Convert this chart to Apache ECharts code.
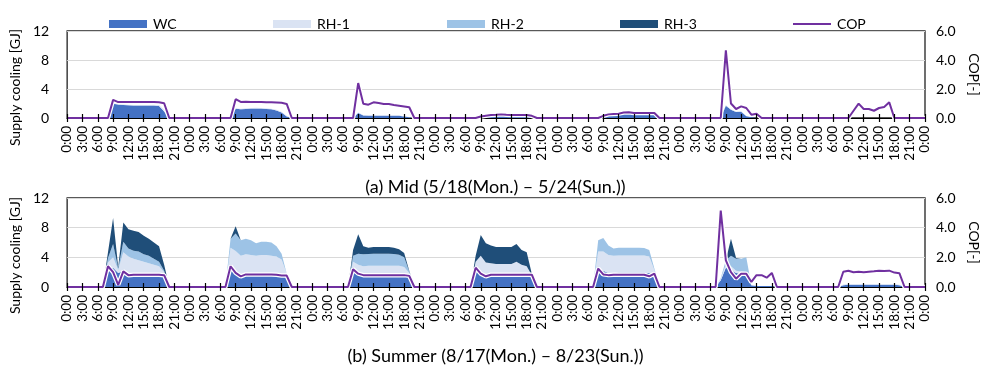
<!DOCTYPE html>
<html>
<head>
<meta charset="utf-8">
<script src="https://cdn.jsdelivr.net/npm/echarts@6/dist/echarts.min.js"></script>
<style>
  html, body { margin: 0; padding: 0; background: #ffffff; }
  #chart { width: 991px; height: 372px; }
</style>
</head>
<body>
<div id="chart"></div>
<script>
// Hour-of-day tick labels (one category per hour, 7 days + closing midnight)
const dayHours = ['0:00','1:00','2:00','3:00','4:00','5:00','6:00','7:00','8:00','9:00','10:00','11:00',
                  '12:00','13:00','14:00','15:00','16:00','17:00','18:00','19:00','20:00','21:00','22:00','23:00'];

const legendNames = ['WC', 'RH-1', 'RH-2', 'RH-3', 'COP'];
const panelTitles = ['(a) Mid (5/18(Mon.) \u2013 5/24(Sun.))', '(b) Summer (8/17(Mon.) \u2013 8/23(Sun.))'];

// ---- Mid season, hourly supply cooling [GJ] and COP [-] ----
const midWC = [
  0,0,0,0,0,0,0,0, 0,1.95,1.86,1.8,1.75,1.73,1.73,1.73,1.73,1.73,1.65,0.9, 0,0,0,0,
  0,0,0,0,0,0,0,0, 0,1.27,1.2,1.25,1.3,1.32,1.3,1.25,1.2,1.05,0.75,0.2, 0,0,0,0,
  0,0,0,0,0,0,0,0, 0,0.7,0.35,0.3,0.3,0.3,0.3,0.3,0.3,0.3,0.2,0.1, 0,0,0,0,
  0,0,0,0,0,0,0,0, 0,0.15,0.2,0.3,0.35,0.4,0.35,0.3,0.3,0.3,0.3,0.2, 0,0,0,0,
  0,0,0,0,0,0,0,0, 0,0.3,0.5,0.6,0.6,0.7,0.75,0.7,0.7,0.7,0.7,0.7, 0,0,0,0,
  0,0,0,0,0,0,0,0, 0,1.7,1.15,0.83,0.87,0.23,0.1,0,0,0,0,0, 0,0,0,0,
  0,0,0,0,0,0,0,0, 0,0,0,0,0,0,0,0,0,0,0,0, 0,0,0,0,
  0
];
const midRH1 = [
  0,0,0,0,0,0,0,0, 0,0.08,0.08,0.08,0.08,0.08,0.08,0.08,0.08,0.1,0.15,0.25, 0,0,0,0,
  0,0,0,0,0,0,0,0, 0,0.08,0.08,0.08,0.08,0.08,0.08,0.08,0.08,0.08,0.1,0.1, 0,0,0,0,
  0,0,0,0,0,0,0,0, 0,0.05,0.05,0.05,0.05,0.05,0.05,0.05,0.05,0.05,0.05,0.05, 0,0,0,0,
  0,0,0,0,0,0,0,0, 0,0,0,0,0,0,0,0,0,0,0,0, 0,0,0,0,
  0,0,0,0,0,0,0,0, 0,0,0,0,0,0,0,0,0,0,0,0, 0,0,0,0,
  0,0,0,0,0,0,0,0, 0,0.1,0.05,0.05,0.05,0,0,0,0,0,0,0, 0,0,0,0,
  0,0,0,0,0,0,0,0, 0,0,0,0,0,0,0,0,0,0,0,0, 0,0,0,0,
  0
];
const midCOP = [
  0,0,0,0,0,0,0,0, 0,1.25,1.1,1.1,1.1,1.1,1.1,1.1,1.1,1.1,1.08,1.02, 0,0,0,0,
  0,0,0,0,0,0,0,0, 0,1.3,1.11,1.12,1.1,1.1,1.1,1.08,1.08,1.07,1.05,0.97, 0,0,0,0,
  0,0,0,0,0,0,0,0, 0,2.41,0.99,0.92,1.08,1.03,0.97,0.97,0.9,0.85,0.8,0.74, 0,0,0,0,
  0,0,0,0,0,0,0,0, 0,0.1,0.15,0.2,0.22,0.25,0.22,0.2,0.2,0.2,0.2,0.15, 0,0,0,0,
  0,0,0,0,0,0,0,0, 0,0.15,0.25,0.28,0.3,0.38,0.4,0.35,0.35,0.35,0.35,0.35, 0,0,0,0,
  0,0,0,0,0,0,0,0, 0,4.67,1.0,0.62,0.8,0.69,0.23,0.3,0,0,0,0, 0,0,0,0,
  0,0,0,0,0,0,0,0, 0,0,0.5,0.99,0.62,0.62,0.5,0.69,0.76,1.08,0,0, 0,0,0,0,
  0
];

// ---- Summer, hourly supply cooling [GJ] and COP [-] ----
const summerWC = [
  0,0,0,0,0,0,0,0, 2.5,2.6,1.9,2.2,1.9,1.8,1.75,1.7,1.7,1.7,1.7,1.5, 0,0,0,0,
  0,0,0,0,0,0,0,0, 2.7,2.25,1.6,1.8,1.8,1.8,1.8,1.8,1.8,1.8,1.7,1.4, 0,0,0,0,
  0,0,0,0,0,0,0,0, 2.6,2.0,1.8,1.85,1.85,1.85,1.85,1.85,1.85,1.85,1.8,1.5, 0,0,0,0,
  0,0,0,0,0,0,0,0, 2.5,2.0,1.7,1.8,1.8,1.8,1.8,1.8,1.8,1.8,1.8,1.4, 0,0,0,0,
  0,0,0,0,0,0,0,0, 2.5,2.2,1.9,1.9,1.95,1.95,1.95,1.95,1.95,1.95,1.9,1.6, 0,0,0,0,
  0,0,0,0,0,0,0,0, 0.9,2.6,2.3,1.9,1.8,1.7,0.2,0.12,0.12,0.12,0.12,0, 0,0,0,0,
  0,0,0,0,0,0,0,0, 0.25,0.3,0.3,0.3,0.3,0.3,0.3,0.3,0.3,0.3,0.3,0.25, 0,0,0,0,
  0
];
const summerRH1 = [
  0,0,0,0,0,0,0,0, 0.8,1.4,0.4,2.5,2.2,2.0,1.85,1.7,1.5,1.3,1.1,0.5, 0,0,0,0,
  0,0,0,0,0,0,0,0, 2.6,2.6,2.6,2.6,2.5,2.4,2.5,2.5,2.4,2.3,2.0,0.4, 0,0,0,0,
  0,0,0,0,0,0,0,0, 0.8,1.0,1.0,1.0,1.0,1.0,1.0,1.0,1.0,1.0,0.9,0.4, 0,0,0,0,
  0,0,0,0,0,0,0,0, 0.9,2.2,1.6,1.4,1.3,1.3,1.3,1.3,1.6,1.2,1.0,0.2, 0,0,0,0,
  0,0,0,0,0,0,0,0, 2.3,2.6,2.4,2.3,2.3,2.3,2.3,2.3,2.3,2.3,2.2,0.7, 0,0,0,0,
  0,0,0,0,0,0,0,0, 0.2,0.4,0.5,0.3,0.3,0.3,0,0,0,0,0,0, 0,0,0,0,
  0,0,0,0,0,0,0,0, 0.1,0.1,0.1,0.1,0.1,0.1,0.1,0.1,0.1,0.1,0.1,0.05, 0,0,0,0,
  0
];
const summerRH2 = [
  0,0,0,0,0,0,0,0, 0.6,1.8,0.2,1.4,1.1,1.1,1.2,1.0,1.0,0.8,0.6,0.2, 0,0,0,0,
  0,0,0,0,0,0,0,0, 1.2,2.35,2.1,2.1,2.0,1.7,1.8,1.8,1.8,1.4,0.8,0, 0,0,0,0,
  0,0,0,0,0,0,0,0, 0.8,1.5,1.6,1.6,1.65,1.65,1.65,1.65,1.6,1.5,1.3,0.2, 0,0,0,0,
  0,0,0,0,0,0,0,0, 0,0,0,0,0,0,0,0,0,0,0,0, 0,0,0,0,
  0,0,0,0,0,0,0,0, 1.5,1.8,1.3,1.0,1.05,1.05,1.05,1.05,1.05,1.0,0.9,0.2, 0,0,0,0,
  0,0,0,0,0,0,0,0, 0.1,0.6,1.4,1.6,1.7,2.0,0,0,0,0,0,0, 0,0,0,0,
  0,0,0,0,0,0,0,0, 0,0,0,0,0,0,0,0,0,0,0,0, 0,0,0,0,
  0
];
const summerRH3 = [
  0,0,0,0,0,0,0,0, 0.8,3.5,0.2,2.6,2.6,2.7,2.6,2.5,2.3,2.2,2.1,0.8, 0,0,0,0,
  0,0,0,0,0,0,0,0, 0,1.0,0,0,0,0,0,0,0,0,0,0, 0,0,0,0,
  0,0,0,0,0,0,0,0, 0.8,2.6,1.1,0.85,0.9,0.9,0.9,0.9,0.85,0.75,0.6,0.1, 0,0,0,0,
  0,0,0,0,0,0,0,0, 0.8,2.8,2.6,2.4,2.3,2.3,2.3,2.3,2.4,2.0,1.9,0.2, 0,0,0,0,
  0,0,0,0,0,0,0,0, 0,0,0,0,0,0,0,0,0,0,0,0, 0,0,0,0,
  0,0,0,0,0,0,0,0, 0,0,2.3,0.1,0,0,0,0,0,0,0,0, 0,0,0,0,
  0,0,0,0,0,0,0,0, 0,0,0,0,0,0,0,0,0,0,0,0, 0,0,0,0,
  0
];
const summerCOP = [
  0,0,0,0,0,0,0,0, 1.4,1.0,0.15,1.05,0.8,0.82,0.82,0.82,0.82,0.82,0.82,0.8, 0,0,0,0,
  0,0,0,0,0,0,0,0, 1.4,0.95,0.72,0.85,0.85,0.85,0.85,0.84,0.84,0.83,0.78,0.77, 0,0,0,0,
  0,0,0,0,0,0,0,0, 1.2,0.9,0.8,0.8,0.8,0.8,0.8,0.8,0.8,0.8,0.8,0.75, 0,0,0,0,
  0,0,0,0,0,0,0,0, 1.3,0.9,0.72,0.83,0.83,0.83,0.83,0.83,0.83,0.83,0.83,0.83, 0,0,0,0,
  0,0,0,0,0,0,0,0, 1.24,0.85,0.8,0.83,0.83,0.83,0.83,0.83,0.83,0.83,0.72,0.9, 0,0,0,0,
  0,0,0,0,0,0,0,0, 5.15,1.8,1.0,0.56,0.9,0.9,0.34,0.8,0.8,0.63,0.95,0, 0,0,0,0,
  0,0,0,0,0,0,0,0, 1.03,1.1,1.0,1.03,1.0,1.03,1.06,1.1,1.08,1.1,0.97,0.92, 0,0,0,0,
  0
];

// Category labels for 7 days plus the closing midnight
const hourLabels = [];
for (let d = 0; d < 7; d++) hourLabels.push(...dayHours);
hourLabels.push(dayHours[0]);

const FONT = 'Lato';
const colors = { 'WC': '#4472C4', 'RH-1': '#DAE3F3', 'RH-2': '#9DC3E6', 'RH-3': '#1F4E79', 'COP': '#7030A0' };

const grids = [
  { left: 67, right: 66, top: 31, height: 87 },
  { left: 67, right: 66, top: 198, height: 89 }
];

const xAxes = [];
const yAxes = [];
grids.forEach((g, gi) => {
  // axis line + rotated labels (drawn beneath the series)
  xAxes.push({
    gridIndex: gi, type: 'category', data: hourLabels, boundaryGap: false,
    axisLine: { lineStyle: { color: '#000', width: 1.2 } },
    axisTick: { show: false },
    axisLabel: { interval: 2, rotate: 90, fontSize: 13.5, color: '#000', margin: 8, fontFamily: FONT },
    splitLine: { show: false }
  });
  // tick marks crossing the axis, drawn above the series
  [false, true].forEach(inside => {
    xAxes.push({
      gridIndex: gi, type: 'category', data: hourLabels, boundaryGap: false, position: 'bottom', z: 10,
      axisLine: { show: false },
      axisTick: { show: true, inside: inside, interval: 2, length: 4, lineStyle: { color: '#000', width: 1.2 } },
      axisLabel: { show: false }, splitLine: { show: false }
    });
  });
  yAxes.push({
    gridIndex: gi, type: 'value', min: 0, max: 12, interval: 4, position: 'left',
    name: 'Supply cooling [GJ]', nameLocation: 'middle', nameRotate: 90, nameGap: 42,
    nameTextStyle: { fontSize: 14, color: '#000', fontFamily: FONT, padding: [0, 26, 0, 0] },
    axisLine: { show: false }, axisTick: { show: false },
    axisLabel: { fontSize: 14, color: '#000', margin: 18, fontFamily: FONT },
    splitLine: { lineStyle: { color: '#d9d9d9', width: 1 } }
  });
  yAxes.push({
    gridIndex: gi, type: 'value', min: 0, max: 6, interval: 2, position: 'right',
    name: 'COP[-]', nameLocation: 'middle', nameRotate: -90, nameGap: 42,
    nameTextStyle: { fontSize: 14, color: '#000', fontFamily: FONT },
    axisLine: { show: false }, axisTick: { show: false },
    axisLabel: { fontSize: 14, color: '#000', margin: 11, fontFamily: FONT, formatter: v => v.toFixed(1) },
    splitLine: { show: false }
  });
});

function areaSeries(name, data, gi, stack) {
  return {
    name: name, type: 'line', data: data, stack: stack,
    xAxisIndex: gi * 3, yAxisIndex: gi * 2,
    symbol: 'none', lineStyle: { width: 0 },
    itemStyle: { color: colors[name] },
    areaStyle: { color: colors[name], opacity: 1 },
    emphasis: { disabled: true }, z: 2
  };
}
function copSeries(data, gi) {
  return [
    { // white outline under the COP line
      name: 'COP outline', type: 'line', data: data,
      xAxisIndex: gi * 3, yAxisIndex: gi * 2 + 1, symbol: 'none', silent: true,
      lineStyle: { color: '#ffffff', width: 4.5 }, emphasis: { disabled: true }, z: 3
    },
    {
      name: 'COP', type: 'line', data: data,
      xAxisIndex: gi * 3, yAxisIndex: gi * 2 + 1, symbol: 'none',
      itemStyle: { color: colors['COP'] },
      lineStyle: { color: colors['COP'], width: 2 }, emphasis: { disabled: true }, z: 4
    }
  ];
}

const series = [
  areaSeries('WC', midWC, 0, 'mid'),
  areaSeries('RH-1', midRH1, 0, 'mid'),
  ...copSeries(midCOP, 0),
  areaSeries('WC', summerWC, 1, 'summer'),
  areaSeries('RH-1', summerRH1, 1, 'summer'),
  areaSeries('RH-2', summerRH2, 1, 'summer'),
  areaSeries('RH-3', summerRH3, 1, 'summer'),
  ...copSeries(summerCOP, 1)
];

// one legend block per entry, evenly spread across the top
const legendLeft = [104, 268, 442, 615, 788];
const legends = legendNames.map((n, i) => ({
  left: legendLeft[i], top: 12, itemWidth: 38, itemHeight: 8, itemGap: 0,
  selectedMode: false,
  textStyle: { fontSize: 14, color: '#000', fontFamily: FONT, padding: [0, 0, 0, 1] },
  data: [n === 'COP' ? { name: n, icon: 'path://M0,0 L38,0 L38,2 L0,2 Z', itemStyle: { color: colors[n] } }
                     : { name: n, icon: 'rect', itemStyle: { color: colors[n] } }]
}));

const option = {
  animation: false,
  backgroundColor: '#ffffff',
  textStyle: { fontFamily: FONT },
  title: [
    { text: panelTitles[0], left: 'center', top: 173, textStyle: { fontSize: 18, fontWeight: 'normal', color: '#000', fontFamily: FONT } },
    { text: panelTitles[1], left: 'center', top: 342, textStyle: { fontSize: 18, fontWeight: 'normal', color: '#000', fontFamily: FONT } }
  ],
  legend: legends,
  grid: grids.map(g => Object.assign({ show: true, borderColor: '#222', borderWidth: 1.3, backgroundColor: 'transparent' }, g)),
  xAxis: xAxes,
  yAxis: yAxes,
  series: series
};

const chart = echarts.init(document.getElementById('chart'), null, { renderer: 'canvas' });
chart.setOption(option);
</script>
</body>
</html>
